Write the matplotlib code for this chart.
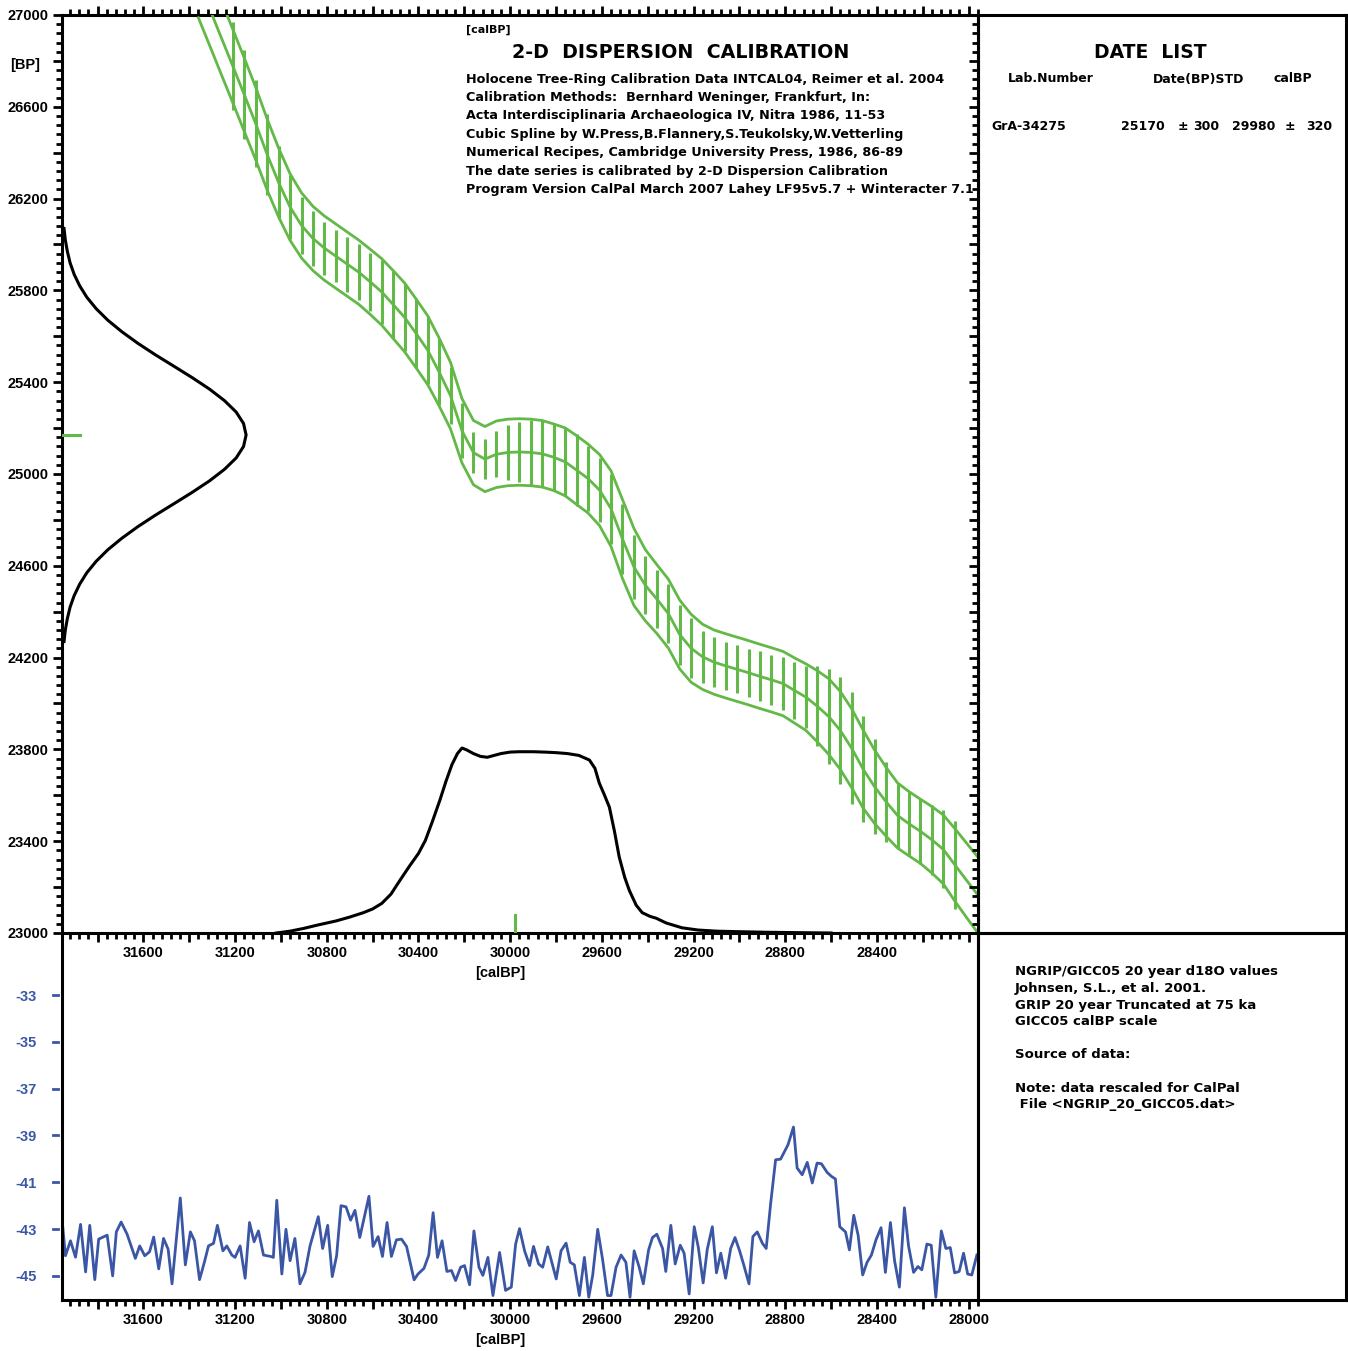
import numpy as np
import matplotlib
matplotlib.use('Agg')
import matplotlib.pyplot as plt
from matplotlib.ticker import MultipleLocator, FuncFormatter, FixedLocator
import matplotlib.transforms as mtransforms

plt.rcParams['font.family'] = ['Liberation Sans', 'DejaVu Sans']
plt.rcParams['font.weight'] = 'bold'
plt.rcParams['axes.unicode_minus'] = False

GREEN = '#62b947'
BLUE = '#3a56a5'
nan = np.nan
WIDE = ['DejaVu Sans']

# ---------------- data ----------------
date_bp = 25170
date_std = 300
cal_median = 29980
cal_std = 320

# calibration curve (calBP grid every 50 yr)
curve_cal = np.arange(31360, 27959, -50)
curve_bp = [27148, 27025, 26901, 26778, 26653, 26527, 26392, 26270, 26163, 26083,
            26026, 25984, 25949, 25914, 25879, 25837, 25793, 25738, 25682, 25612,
            25540, 25445, 25341, 25188, 25093, 25065, 25086, 25094, 25096, 25094,
            25088, 25073, 25053, 25017, 24980, 24930, 24849, 24717, 24595, 24515,
            24455, 24392, 24300, 24240, 24203, 24180, 24164, 24149, 24134, 24118,
            24103, 24087, 24057, 24028, 23988, 23943, 23883, 23805, 23714, 23637,
            23572, 23512, 23476, 23443, 23406, 23364, 23297, 23231, 23166]
band_sig = [160, 160, 160, 160, 160, 158, 155, 150, 145, 142,
            140, 140, 140, 140, 140, 142, 145, 148, 150, 150,
            150, 148, 145, 140, 140, 142, 145, 145, 145, 145,
            145, 145, 148, 150, 150, 155, 165, 172, 168, 155,
            150, 150, 150, 148, 142, 140, 140, 140, 140, 140,
            140, 140, 142, 145, 155, 165, 170, 172, 170, 160,
            150, 142, 140, 140, 145, 150, 158, 162, 165]
bar_sig = [nan, nan, nan, 190, 195, 190, 175, 160, 140, 125, 120, 116, 113,
           120, 123, 127, 140, 145, 148, 149, 149, 145, 125,
           120, 88, 88, 100, 120, 131, 142, 145, 145, 149,
           158, 141, 138, 152, 152, 140, 127, 127, 127, 131,
           131, 113, 109, 105, 105, 105, 109, 109, 116, 123,
           134, 174, 207, 232, 243, 232, 207, 174, 142, 138,
           142, 152, 170, 193, nan, nan]

# 14C date probability (relative)
bp_pdf = np.arange(26070, 24269, -50)
bp_amp = [0.011, 0.018, 0.029, 0.044, 0.066, 0.096, 0.135, 0.186, 0.249, 0.325,
          0.411, 0.506, 0.607, 0.707, 0.801, 0.882, 0.946, 0.986, 1.0,
          0.986, 0.946, 0.882, 0.801, 0.707, 0.607, 0.506, 0.411, 0.325, 0.249,
          0.186, 0.135, 0.096, 0.066, 0.044, 0.029, 0.018, 0.011]

# calibrated probability (relative)
cal_pdf = [31020, 30960, 30900, 30840, 30760, 30700, 30640, 30600, 30560, 30520,
           30480, 30440, 30400, 30370, 30340, 30306, 30280, 30254, 30230, 30210,
           30190, 30160, 30130, 30100, 30070, 30040, 30000, 29960, 29900, 29850,
           29800, 29750, 29700, 29654, 29630, 29611, 29590, 29567, 29545, 29524,
           29500, 29480, 29450, 29424, 29390, 29363, 29319, 29250, 29180, 29100,
           29000, 28880, 28750, 28600]
cal_amp = [0.0, 0.01, 0.025, 0.043, 0.065, 0.086, 0.11, 0.13, 0.16, 0.21,
           0.286, 0.36, 0.43, 0.50, 0.60, 0.72, 0.82, 0.91, 0.97, 1.0,
           0.99, 0.97, 0.955, 0.95, 0.96, 0.97, 0.978, 0.98, 0.98, 0.978,
           0.975, 0.97, 0.96, 0.935, 0.89, 0.81, 0.75, 0.68, 0.55, 0.41,
           0.30, 0.23, 0.15, 0.11, 0.09, 0.08, 0.054, 0.028, 0.016, 0.01,
           0.007, 0.004, 0.002, 0.0]

# NGRIP d18O
ngrip_cal = [31954, 31940, 31918, 31896, 31874, 31852, 31834, 31812, 31795, 31758,
             31734, 31718, 31697, 31671, 31635, 31616, 31594, 31573, 31555, 31533,
             31512, 31492, 31475, 31439, 31417, 31395, 31377, 31355, 31334, 31316,
             31294, 31277, 31253, 31236, 31214, 31200, 31178, 31156, 31137, 31117,
             31098, 31076, 31044, 31033, 31018, 30996, 30978, 30960, 30939, 30917,
             30895, 30873, 30837, 30818, 30796, 30776, 30757, 30738, 30716, 30696,
             30677, 30656, 30616, 30598, 30576, 30557, 30537, 30518, 30496, 30474,
             30452, 30419, 30402, 30376, 30355, 30336, 30317, 30297, 30276, 30256,
             30238, 30216, 30199, 30177, 30158, 30136, 30119, 30097, 30075, 30046,
             30020, 29995, 29976, 29959, 29937, 29915, 29898, 29876, 29858, 29836,
             29799, 29778, 29756, 29738, 29720, 29698, 29676, 29657, 29640, 29618,
             29597, 29575, 29560, 29538, 29516, 29495, 29477, 29459, 29437, 29419,
             29396, 29379, 29360, 29335, 29321, 29299, 29280, 29258, 29241, 29219,
             29197, 29179, 29158, 29140, 29118, 29100, 29081, 29060, 29038, 29019,
             28999, 28980, 28958, 28941, 28922, 28900, 28883, 28864, 28842, 28820,
             28788, 28764, 28748, 28726, 28704, 28682, 28661, 28642, 28617, 28598,
             28581, 28562, 28537, 28520, 28501, 28482, 28462, 28443, 28424, 28404,
             28382, 28363, 28341, 28323, 28302, 28280, 28262, 28240, 28221, 28204,
             28182, 28163, 28143, 28119, 28099, 28080, 28061, 28041, 28022, 28004,
             27986, 27964]
ngrip_d18o = [-42.66, -44.14, -43.50, -44.20, -42.80, -44.83, -42.84, -45.16, -43.43, -43.26,
              -45.00, -43.12, -42.70, -43.22, -44.25, -43.72, -44.14, -43.97, -43.34, -44.70,
              -43.40, -43.86, -45.34, -41.67, -44.53, -43.12, -43.50, -45.16, -44.42, -43.72,
              -43.61, -42.84, -43.93, -43.72, -44.11, -44.21, -43.72, -45.10, -42.72, -43.54,
              -43.08, -44.11, -44.17, -44.21, -41.77, -44.92, -43.01, -44.35, -43.40, -45.34,
              -44.85, -43.72, -42.47, -43.83, -42.84, -45.03, -44.14, -42.00, -42.05, -42.62,
              -42.20, -43.36, -41.60, -43.74, -43.32, -44.17, -42.72, -44.17, -43.46, -43.43,
              -43.74, -45.17, -44.92, -44.68, -44.11, -42.30, -44.21, -43.50, -44.81, -44.77,
              -45.20, -44.63, -44.56, -45.38, -43.08, -44.63, -44.98, -44.21, -45.84, -44.00,
              -45.62, -45.48, -43.64, -42.98, -43.93, -44.56, -43.74, -44.49, -44.63, -43.76,
              -45.13, -43.93, -43.60, -44.42, -44.53, -45.84, -44.21, -45.91, -44.98, -43.01,
              -44.28, -45.84, -45.84, -44.63, -44.11, -44.42, -45.91, -43.93, -44.63, -45.34,
              -43.89, -43.36, -43.22, -43.83, -44.81, -42.84, -44.49, -43.69, -44.03, -45.77,
              -42.90, -43.79, -45.30, -43.86, -42.90, -44.87, -44.03, -45.10, -43.83, -43.36,
              -43.93, -44.56, -45.34, -43.32, -43.12, -43.60, -43.83, -41.95, -40.04, -40.01,
              -39.40, -38.64, -40.39, -40.68, -40.15, -41.03, -40.18, -40.21, -40.58, -40.75,
              -40.86, -42.90, -43.12, -43.89, -42.41, -43.26, -44.96, -44.42, -44.11, -43.46,
              -42.94, -44.85, -42.72, -44.35, -45.48, -42.09, -43.72, -44.85, -44.60, -44.74,
              -43.64, -43.69, -45.91, -43.08, -43.83, -43.79, -44.87, -44.81, -44.03, -44.92,
              -44.96, -44.11]

ngrip_ticks = [-33, -35, -37, -39, -41, -43, -45]

info_lines = [
    "Holocene Tree-Ring Calibration Data INTCAL04, Reimer et al. 2004",
    "Calibration Methods:  Bernhard Weninger, Frankfurt, In:",
    "Acta Interdisciplinaria Archaeologica IV, Nitra 1986, 11-53",
    "Cubic Spline by W.Press,B.Flannery,S.Teukolsky,W.Vetterling",
    "Numerical Recipes, Cambridge University Press, 1986, 86-89",
    "The date series is calibrated by 2-D Dispersion Calibration",
    "Program Version CalPal March 2007 Lahey LF95v5.7 + Winteracter 7.1",
]
ngrip_lines = [
    "NGRIP/GICC05 20 year d18O values",
    "Johnsen, S.L., et al. 2001.",
    "GRIP 20 year Truncated at 75 ka",
    "GICC05 calBP scale",
    "",
    "Source of data:",
    "",
    "Note: data rescaled for CalPal",
    " File <NGRIP_20_GICC05.dat>",
]

# ---------------- figure ----------------
W, H = 1348, 1351
fig = plt.figure(figsize=(W / 100, H / 100), dpi=100)


def rect(x0, y0, x1, y1):
    return [x0 / W, 1 - y1 / H, (x1 - x0) / W, (y1 - y0) / H]


def ftext(x, y, s, **kw):
    kw.setdefault('va', 'center')
    kw.setdefault('fontweight', 'bold')
    fig.text(x / W, 1 - y / H, s, **kw)


SPW = 2.2
XLIM = (31955, 27959)

ax = fig.add_axes(rect(62, 15, 978, 933))
ax.set_xlim(*XLIM)
ax.set_ylim(23000, 27000)
for sp in ax.spines.values():
    sp.set_linewidth(SPW)

xfmt_main = FuncFormatter(lambda v, p: f'{v:.0f}' if (abs(v % 400) < 1 and v > 28100) else '')
xfmt = FuncFormatter(lambda v, p: f'{v:.0f}' if abs(v % 400) < 1 else '')
yfmt = FuncFormatter(lambda v, p: f'{v:.0f}' if abs((v - 23000) % 400) < 1 else '')
ax.xaxis.set_major_locator(MultipleLocator(200))
ax.xaxis.set_minor_locator(MultipleLocator(40))
ax.xaxis.set_major_formatter(xfmt_main)
ax.yaxis.set_major_locator(MultipleLocator(200))
ax.yaxis.set_minor_locator(MultipleLocator(40))
ax.yaxis.set_major_formatter(yfmt)
ax.tick_params(axis='x', which='both', top=True, bottom=True, direction='out', width=2)
ax.tick_params(axis='y', which='both', left=True, right=False, direction='out', width=2)
ax.tick_params(which='major', length=6.5, labelsize=10.5, pad=3)
ax.tick_params(which='minor', length=4)

axr = ax.twinx()
axr.set_ylim(ax.get_ylim())
axr.yaxis.set_major_locator(MultipleLocator(200))
axr.yaxis.set_minor_locator(MultipleLocator(40))
axr.tick_params(axis='y', which='both', direction='in', width=2, labelright=False)
axr.tick_params(which='major', length=6.5)
axr.tick_params(which='minor', length=4)
for sp in axr.spines.values():
    sp.set_visible(False)

# calibration curve
cb = np.array(curve_bp, float)
bs = np.array(band_sig, float)
ax.plot(curve_cal, cb, color=GREEN, lw=2.0, zorder=3)
ax.plot(curve_cal, cb + bs, color=GREEN, lw=2.0, zorder=3)
ax.plot(curve_cal, cb - bs, color=GREEN, lw=2.0, zorder=3)
brs = np.array(bar_sig, float)
m = ~np.isnan(brs)
ax.vlines(curve_cal[m], cb[m] - brs[m], cb[m] + brs[m], color=GREEN, lw=2.2, zorder=3)

# probability curves
tr_y = mtransforms.blended_transform_factory(ax.transAxes, ax.transData)
tr_x = mtransforms.blended_transform_factory(ax.transData, ax.transAxes)
ax.plot(np.array(bp_amp) * 0.201, bp_pdf, color='black', lw=2.2, transform=tr_y, zorder=4)
ax.plot(cal_pdf, np.array(cal_amp) * 0.2015, color='black', lw=2.2, transform=tr_x, zorder=4)
ax.plot([0, 0.02], [date_bp, date_bp], color=GREEN, lw=2.2, transform=tr_y, zorder=4)
ax.plot([cal_median, cal_median], [0, 0.02], color=GREEN, lw=2.2, transform=tr_x, zorder=4)

# ---------------- lower panel ----------------
ax2 = fig.add_axes(rect(62, 933, 978, 1300))
ax2.set_facecolor('none')
ax2.set_xlim(*XLIM)
ax2.set_ylim(-46.03, -30.35)
for sp in ax2.spines.values():
    sp.set_linewidth(SPW)
ax2.spines['top'].set_visible(False)
ax2.plot(ngrip_cal, ngrip_d18o, color=BLUE, lw=2.0)
ax2.xaxis.set_major_locator(MultipleLocator(200))
ax2.xaxis.set_minor_locator(MultipleLocator(40))
ax2.xaxis.set_major_formatter(xfmt)
ax2.tick_params(axis='x', which='both', top=False, bottom=True, direction='out', width=2)
ax2.tick_params(axis='x', which='major', length=6.5, labelsize=10.5, pad=3)
ax2.tick_params(axis='x', which='minor', length=4)
ax2.yaxis.set_major_locator(FixedLocator(ngrip_ticks))
ax2.tick_params(axis='y', length=0, pad=18, labelsize=10.5, labelcolor=BLUE)
tr2 = mtransforms.blended_transform_factory(ax2.transAxes, ax2.transData)
for v in ngrip_ticks:
    ax2.plot([-0.0098, -0.0044], [v, v], color=BLUE, lw=2, transform=tr2, clip_on=False)

# ---------------- right panels ----------------
for r in [rect(978, 15, 1346, 933), rect(978, 933, 1346, 1300)]:
    a = fig.add_axes(r)
    a.set_facecolor('none')
    a.set_xticks([])
    a.set_yticks([])
    for sp in a.spines.values():
        sp.set_linewidth(SPW)

# ---------------- texts ----------------
ftext(466, 30, '[calBP]', fontsize=8, family=WIDE)
ftext(681, 52, '2-D  DISPERSION  CALIBRATION', fontsize=13.7, ha='center', family=WIDE)
for i, s in enumerate(info_lines):
    ftext(466, 79 + i * 18.4, s, fontsize=9.2, family=WIDE)
ftext(10, 65, '[BP]', fontsize=10.5)
ftext(500, 973, '[calBP]', fontsize=10.5, ha='center')
ftext(500, 1340, '[calBP]', fontsize=10.5, ha='center')

ftext(1150, 52, 'DATE  LIST', fontsize=13.5, ha='center', family=WIDE)
ftext(1008, 79, 'Lab.Number', fontsize=9, family=WIDE)
ftext(1153, 79, 'Date(BP)STD', fontsize=9, family=WIDE)
ftext(1274, 79, 'calBP', fontsize=9, family=WIDE)
ftext(991, 126, 'GrA-34275', fontsize=9, family=WIDE)
ftext(1121, 126, f'{date_bp}', fontsize=9, family=WIDE)
ftext(1183, 126, '±', fontsize=9, ha='center', family=WIDE)
ftext(1193, 126, f'{date_std}', fontsize=9, family=WIDE)
ftext(1232, 126, f'{cal_median}', fontsize=9, family=WIDE)
ftext(1290, 126, '±', fontsize=9, ha='center', family=WIDE)
ftext(1332, 126, f'{cal_std}', fontsize=9, ha='right', family=WIDE)

for i, s in enumerate(ngrip_lines):
    if s:
        ftext(1015, 972 + i * 16.6, s, fontsize=9.5, family=WIDE)

fig.savefig('out.png', dpi=100)
